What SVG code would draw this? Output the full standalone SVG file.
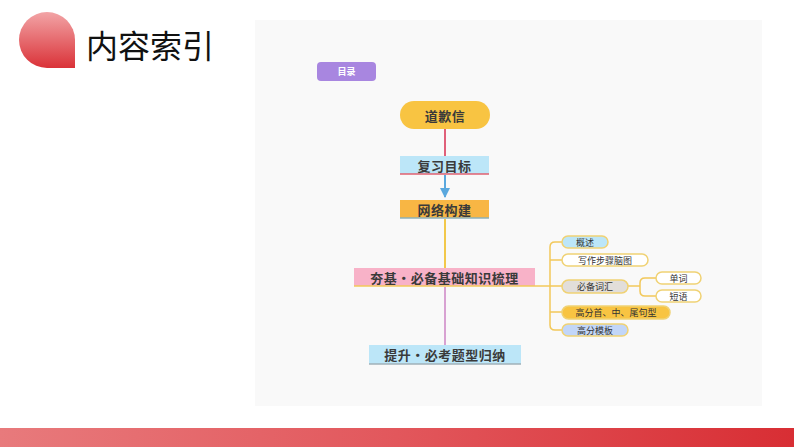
<svg xmlns="http://www.w3.org/2000/svg" width="794" height="447" viewBox="0 0 794 447">
<defs>
<linearGradient id="gIcon" x1="0" y1="0" x2="0" y2="1">
<stop offset="0" stop-color="#f2a4a6"/>
<stop offset="1" stop-color="#da3238"/>
</linearGradient>
<linearGradient id="gBar" x1="0" y1="0" x2="1" y2="0">
<stop offset="0" stop-color="#e87a7c"/>
<stop offset="0.5" stop-color="#e2575c"/>
<stop offset="1" stop-color="#d82e34"/>
</linearGradient>
<marker id="arrB" viewBox="0 0 10 10" refX="9" refY="5" markerWidth="5" markerHeight="5" orient="auto">
<path d="M0,0 L10,5 L0,10 Z" fill="#5aa8de"/>
</marker>
<style>
.main{font-family:"Noto Sans CJK SC","Noto Sans",sans-serif;font-size:13px;font-weight:bold;fill:#3a3a3a;text-anchor:middle;dominant-baseline:central;letter-spacing:0.5px}
.sub{font-family:"Noto Sans CJK SC","Noto Sans",sans-serif;font-size:9px;fill:#333;text-anchor:middle;dominant-baseline:central}
.pill{stroke:#f0d274;stroke-width:1.5}
.br{fill:none;stroke:#f2c85a;stroke-width:1.5}
</style>
</defs>
<rect width="794" height="447" fill="#ffffff"/>
<rect x="255" y="20" width="507" height="386" fill="#f9f9f9"/>
<rect x="0" y="428" width="794" height="19" fill="url(#gBar)"/>
<path d="M75,68 L47,68 A28,28 0 1 1 75,40 Z" fill="url(#gIcon)"/>
<text x="86" y="58" font-family="Noto Sans CJK SC,Noto Sans,sans-serif" font-size="32" fill="#111">内容索引</text>

<g id="connectors">
<line x1="445" y1="129" x2="445" y2="156" stroke="#e0607a" stroke-width="2"/>
<line x1="445" y1="175" x2="445" y2="197" stroke="#5aa8de" stroke-width="2" marker-end="url(#arrB)"/>
<line x1="445" y1="219" x2="445" y2="268" stroke="#f2c84a" stroke-width="2"/>
<line x1="445" y1="287" x2="445" y2="345" stroke="#d8a2d2" stroke-width="2"/>
<path class="br" d="M535,286 L550,286"/>
<path class="br" d="M562,242 L555,242 Q550,242 550,247 L550,325 Q550,330 555,330 L562,330"/>
<path class="br" d="M550,260 L562,260 M550,286 L562,286 M550,312 L562,312"/>
<path class="br" d="M628,286 L640,286"/>
<path class="br" d="M656,278 L645,278 Q640,278 640,283 L640,291 Q640,296 645,296 L656,296"/>
</g>

<g id="mulu"><rect x="317" y="62" width="59" height="19" rx="4" fill="#a886e0"/><text class="sub" x="346.5" y="71.5" fill="#fff" style="fill:#fff;font-weight:bold">目录</text></g>
<g id="daoqianxin"><rect x="400" y="101" width="90" height="28" rx="14" fill="#f8c442"/><text class="main" x="445" y="115">道歉信</text></g>
<g id="fuxi"><rect x="400" y="156" width="89" height="18" fill="#bce6f8"/><line x1="400" y1="174" x2="489" y2="174" stroke="#e06070" stroke-width="1.5"/><text class="main" x="444.5" y="165">复习目标</text></g>
<g id="wangluo"><rect x="400" y="200" width="89" height="18" fill="#f8b644"/><line x1="400" y1="218" x2="489" y2="218" stroke="#8cb0b8" stroke-width="1.5"/><text class="main" x="444.5" y="209">网络构建</text></g>
<g id="hangji"><rect x="354" y="268" width="181" height="18" fill="#f8b2c8"/><line x1="354" y1="286" x2="535" y2="286" stroke="#f2c85a" stroke-width="1.5"/><text class="main" x="444.5" y="277">夯基·必备基础知识梳理</text></g>
<g id="tisheng"><rect x="369" y="345" width="152" height="19" fill="#bce6f8"/><line x1="369" y1="364" x2="521" y2="364" stroke="#a0b0b8" stroke-width="1.5"/><text class="main" x="445" y="354.5">提升·必考题型归纳</text></g>

<g id="gaishu"><rect class="pill" x="562" y="236" width="46" height="12" rx="6" fill="#bce6f8"/><text class="sub" x="585" y="242">概述</text></g>
<g id="xiezuo"><rect class="pill" x="562" y="254" width="86" height="12" rx="6" fill="#ffffff"/><text class="sub" x="605" y="260">写作步骤脑图</text></g>
<g id="bibei"><rect class="pill" x="562" y="280" width="66" height="13" rx="6.5" fill="#e2deda"/><text class="sub" x="595" y="286.5">必备词汇</text></g>
<g id="danci"><rect class="pill" x="656" y="272" width="45" height="12" rx="6" fill="#ffffff"/><text class="sub" x="678.5" y="278">单词</text></g>
<g id="duanyu"><rect class="pill" x="656" y="290" width="45" height="12" rx="6" fill="#ffffff"/><text class="sub" x="678.5" y="296">短语</text></g>
<g id="gaofen"><rect class="pill" x="562" y="306" width="108" height="13" rx="6.5" fill="#f8c442"/><text class="sub" x="616" y="312.5">高分首、中、尾句型</text></g>
<g id="moban"><rect class="pill" x="562" y="324" width="66" height="12" rx="6" fill="#c2d6f8"/><text class="sub" x="595" y="330">高分模板</text></g>
</svg>
